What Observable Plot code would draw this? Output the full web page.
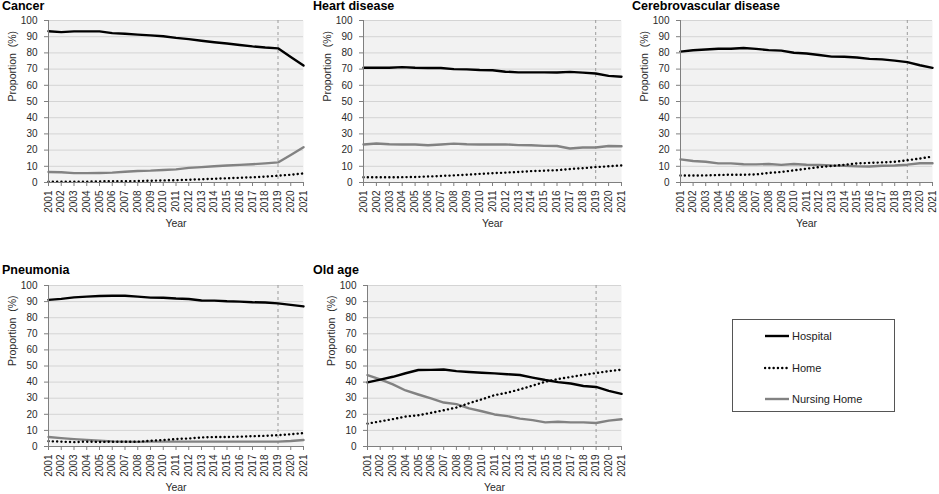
<!DOCTYPE html>
<html><head><meta charset="utf-8">
<script src="https://cdn.jsdelivr.net/npm/d3@7"></script>
<script src="https://cdn.jsdelivr.net/npm/@observablehq/plot@0.6"></script>
<style>
body{margin:0;background:#fff;font-family:"Liberation Sans",Arial,sans-serif;}
#root{position:relative;width:939px;height:494px;overflow:hidden;background:#fff;}
.panel{position:absolute;}
.title{position:absolute;font-weight:bold;font-size:12.5px;color:#000;white-space:nowrap;line-height:1;}
#legend{position:absolute;left:732px;top:319px;width:163px;height:93px;border:1px solid #555;box-sizing:border-box;background:#fff;}
#legend .item{position:absolute;left:31px;height:14px;display:flex;align-items:center;font-size:11px;color:#222;}
#legend svg{margin-right:2px;}
</style>
</head><body>
<div id="root"></div>
<script>
const years = [2001,2002,2003,2004,2005,2006,2007,2008,2009,2010,2011,2012,2013,2014,2015,2016,2017,2018,2019,2020,2021];
const yTicks = [0,10,20,30,40,50,60,70,80,90,100];
const seriesNames = ["Hospital","Home","Nursing Home"];
const causes = ["Cancer","Heart disease","Cerebrovascular disease","Pneumonia","Old age"];

const cancerHospital = [93.4,92.8,93.3,93.3,93.3,92.2,91.8,91.3,90.8,90.3,89.3,88.5,87.5,86.6,85.8,84.9,84.0,83.3,82.8,77.5,72.2];
const cancerHome     = [0.5,0.5,0.5,0.5,0.7,0.8,0.8,0.9,1.1,1.3,1.4,1.7,2.0,2.3,2.6,2.9,3.2,3.6,4.2,4.8,5.6];
const cancerNursing  = [6.5,6.3,5.8,5.8,5.9,6.1,6.6,7.1,7.3,7.7,8.1,9.0,9.5,10.0,10.5,10.9,11.3,11.8,12.4,17.0,21.8];

const heartHospital = [70.8,70.8,70.8,71.2,70.8,70.7,70.7,70.0,69.8,69.4,69.3,68.4,68.0,68.0,68.0,67.9,68.3,67.8,67.3,65.8,65.3];
const heartHome     = [3.2,3.2,3.2,3.3,3.4,3.7,4.0,4.4,4.8,5.3,5.7,6.1,6.5,7.0,7.3,7.6,8.3,8.8,9.5,10.0,10.5];
const heartNursing  = [23.5,24.1,23.6,23.5,23.5,23.0,23.5,24.0,23.6,23.5,23.5,23.5,23.1,23.0,22.6,22.5,21.0,21.6,21.6,22.5,22.4];

const cerebroHospital = [80.8,81.6,82.1,82.6,82.6,83.0,82.5,81.7,81.4,80.1,79.6,78.7,77.7,77.6,77.2,76.3,76.0,75.2,74.3,72.4,70.8];
const cerebroHome     = [4.3,4.3,4.4,4.6,4.8,4.8,5.0,5.9,6.5,7.5,8.5,9.5,10.2,10.9,11.8,12.1,12.4,12.8,13.7,14.8,16.0];
const cerebroNursing  = [14.3,13.3,12.8,11.8,11.8,11.3,11.2,11.4,10.9,11.4,11.0,10.9,10.5,10.3,10.0,9.9,10.3,10.5,11.0,11.9,11.9];

const pneumoniaHospital = [91.1,91.7,92.6,93.1,93.5,93.6,93.6,93.1,92.5,92.4,91.9,91.6,90.7,90.6,90.2,90.0,89.6,89.4,88.9,88.0,87.0];
const pneumoniaHome     = [3.3,3.0,2.7,3.0,2.8,3.0,2.9,3.0,3.5,4.0,4.6,5.0,5.6,5.9,5.9,6.1,6.4,6.6,7.0,7.6,8.3];
const pneumoniaNursing  = [5.9,5.2,4.6,4.1,3.6,3.2,3.0,2.9,3.0,3.0,3.0,3.0,3.0,3.0,3.0,3.0,3.0,3.0,3.0,3.4,4.0];

const oldHospital = [39.8,41.5,43.3,45.5,47.5,47.6,47.8,46.8,46.3,45.8,45.4,44.9,44.4,42.8,41.3,40.0,39.1,37.6,37.0,34.6,32.7];
const oldHome     = [14.2,15.6,17.0,18.6,19.4,20.9,22.5,24.2,26.9,29.3,31.9,33.4,35.5,37.8,40.2,41.9,43.2,44.5,45.6,46.8,47.7];
const oldNursing  = [44.4,41.7,38.6,34.8,32.3,29.9,27.3,26.3,23.7,21.9,19.9,18.9,17.3,16.4,15.0,15.4,15.0,15.0,14.6,16.1,16.9];

const referenceYear = 2019;

const panelData = [
  [cancerHospital, cancerHome, cancerNursing],
  [heartHospital, heartHome, heartNursing],
  [cerebroHospital, cerebroHome, cerebroNursing],
  [pneumoniaHospital, pneumoniaHome, pneumoniaNursing],
  [oldHospital, oldHome, oldNursing]
];

// layout: svg left/top, plot width/height, title position
const layout = [
  {left:0,   top:10,  w:255, h:162, mr:8, tx:2,   ty:0},
  {left:315, top:10,  w:258, h:162, mr:8, tx:313, ty:0},
  {left:632, top:10,  w:252, h:162, mr:6, tx:632, ty:0},
  {left:0,   top:275, w:255, h:161, mr:8, tx:2,   ty:264},
  {left:319, top:275, w:254, h:161, mr:8, tx:313, ty:264}
];

const styles = {
  "Hospital":     {stroke:"#000", strokeWidth:2.4},
  "Home":         {stroke:"#000", strokeWidth:2.4, strokeDasharray:"0.1 4.2", strokeLinecap:"round"},
  "Nursing Home": {stroke:"#828282", strokeWidth:2.4}
};

const root = document.getElementById("root");
const ML = 48, MT = 10, MB = 50;

causes.forEach((cause, i) => {
  const L = layout[i];
  const rows = [];
  seriesNames.forEach((s, k) => {
    panelData[i][k].forEach((v, j) => rows.push({cause, series:s, year:years[j], value:v}));
  });
  const lineMarks = ["Nursing Home","Home","Hospital"].map(s =>
    Plot.lineY(rows.filter(r => r.series === s), {x:"year", y:"value", ...styles[s]})
  );
  const chart = Plot.plot({
    width: L.w + ML + L.mr,
    height: L.h + MT + MB,
    marginLeft: ML, marginRight: L.mr, marginTop: MT, marginBottom: MB,
    style: {fontFamily:"'Liberation Sans', Arial, sans-serif", fontSize:"10px", color:"#2a2a2a", background:"transparent", overflow:"visible"},
    x: {type:"linear", domain:[years[0], years[years.length-1]]},
    y: {domain:[0,100]},
    marks: [
      Plot.frame({fill:"#f2f2f2", stroke:null}),
      Plot.gridY(yTicks.filter(t => t > 0), {stroke:"#d4d4d4", strokeOpacity:1, strokeWidth:1}),
      Plot.ruleX([referenceYear], {stroke:"#9a9a9a", strokeWidth:1, strokeDasharray:"3,3"}),
      ...lineMarks,
      Plot.ruleY([0], {stroke:"#7f7f7f", strokeWidth:1}),
      Plot.ruleX([years[0]], {stroke:"#7f7f7f", strokeWidth:1}),
      Plot.axisY({ticks:yTicks, tickSize:4, tickPadding:7, label:null, stroke:"#7f7f7f", fill:"#2a2a2a", fontSize:10}),
      Plot.axisX({ticks:years, tickFormat:d => String(d), tickRotate:-90, tickSize:4, tickPadding:4, label:null, stroke:"#7f7f7f", fill:"#2a2a2a", fontSize:10}),
      Plot.text(["Year"], {frameAnchor:"bottom", dy:44, fontSize:10.5, fill:"#2a2a2a"}),
      Plot.text(["Proportion  (%)"], {frameAnchor:"left", dx:-36, rotate:-90, fontSize:10.5, fill:"#2a2a2a"})
    ]
  });
  const div = document.createElement("div");
  div.className = "panel";
  div.style.left = L.left + "px";
  div.style.top = L.top + "px";
  div.appendChild(chart);
  root.appendChild(div);

  const t = document.createElement("div");
  t.className = "title";
  t.style.left = L.tx + "px";
  t.style.top = L.ty + "px";
  t.textContent = cause;
  root.appendChild(t);
});

// legend
const legend = document.createElement("div");
legend.id = "legend";
const itemTops = [9, 41, 72];
seriesNames.forEach((s, k) => {
  const it = document.createElement("div");
  it.className = "item";
  it.style.top = itemTops[k] + "px";
  const st = styles[s];
  const svg = d3.create("svg").attr("width", 26).attr("height", 6);
  svg.append("line").attr("x1", 1).attr("x2", 25).attr("y1", 3).attr("y2", 3)
    .attr("stroke", st.stroke).attr("stroke-width", st.strokeWidth)
    .attr("stroke-dasharray", st.strokeDasharray || null)
    .attr("stroke-linecap", st.strokeLinecap || null);
  it.appendChild(svg.node());
  const span = document.createElement("span");
  span.textContent = s;
  it.appendChild(span);
  legend.appendChild(it);
});
root.appendChild(legend);
</script>
</body></html>
